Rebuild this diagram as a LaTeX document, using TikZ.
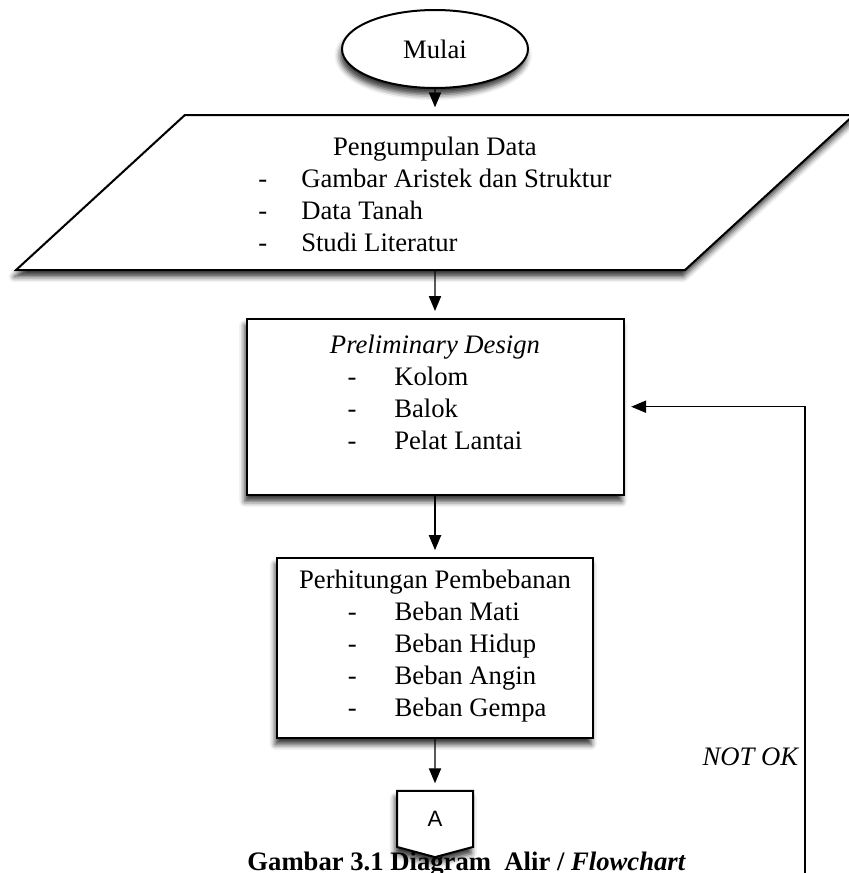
\documentclass[tikz,border=0pt]{standalone}
\usepackage{fontspec}
\setmainfont{Liberation Serif}
\newfontfamily\connfont{Liberation Sans}
\usepackage{tikz}
\usetikzlibrary{positioning,shapes.geometric,shapes.symbols,arrows.meta,shadows.blur}

\newcommand{\lst}[2]{\begin{tabular}[t]{@{}l@{\hspace{#1}}l@{}}#2\end{tabular}}

\begin{document}
\begin{tikzpicture}[x=0.45pt,y=-0.45pt,font=\fontsize{12}{14.4}\selectfont]
      \tikzset{soft/.style={blur shadow={shadow xshift=-0.8pt,shadow yshift=-3pt,shadow blur radius=2.5pt,shadow opacity=80}}}
      \tikzset{terminal/.style={ellipse,draw,line width=0.9pt,fill=white,inner sep=0pt,minimum width=83.7pt,minimum height=35.1pt,soft}}
      \tikzset{io/.style={trapezium,trapezium left angle=39,trapezium right angle=141,trapezium stretches body=true,draw,line width=0.9pt,fill=white,inner sep=0pt,minimum width=377pt,minimum height=69.75pt,align=center,soft}}
      \tikzset{proc/.style={rectangle,draw,line width=0.9pt,fill=white,inner sep=0pt,align=center,soft}}
      \tikzset{offpage/.style={signal,signal to=south,signal pointer angle=150,draw,line width=0.9pt,fill=white,inner sep=0pt,minimum width=34.2pt,minimum height=26.1pt,font=\connfont\fontsize{10}{12}\selectfont,soft}}
      \tikzset{arr/.style={-{Triangle[length=6.75pt,width=5.5pt]},line width=0.6pt,shorten >=3pt}}

      \useasboundingbox (0,0) rectangle (849,873);

      \node[terminal] (start) at (435,49) {Mulai};
      \node[io] (data) [below=11.25pt of start]
        {\rule{0pt}{14pt}Pengumpulan Data\\ \lst{15.3pt}{- & Gambar Aristek dan Struktur\\ - & Data Tanah\\ - & Studi Literatur}};
      \node[proc,minimum width=169.65pt,minimum height=79.2pt] (prelim) [below=21pt of data]
        {\textit{Preliminary Design}\\ \lst{17pt}{- & Kolom\\ - & Balok\\ - & Pelat Lantai\\[9pt]}};
      \node[proc,minimum width=142.2pt,minimum height=81pt] (beban) [below=27.5pt of prelim]
        {Perhitungan Pembebanan\\ \hspace*{11pt}\lst{17pt}{- & Beban Mati\\ - & Beban Hidup\\ - & Beban Angin\\ - & Beban Gempa}};
      \node[offpage] (conA) [below=23pt of beban] {A};

      \coordinate (back) at (805,880);
      \node[anchor=base east] (notok) at (806,765) {\itshape NOT OK};
      \node[anchor=base west,inner sep=0pt] (cap) at (247,870) {\bfseries Gambar 3.1 Diagram\ \ Alir / \textit{Flowchart}};

      \draw[arr] (start) -- (data);
      \draw[arr] (data) -- (prelim);
      \draw[arr] (prelim) -- (beban);
      \draw[arr] (beban) -- (conA);
      \draw[arr] (back) |- (prelim.east);
\end{tikzpicture}
\end{document}
